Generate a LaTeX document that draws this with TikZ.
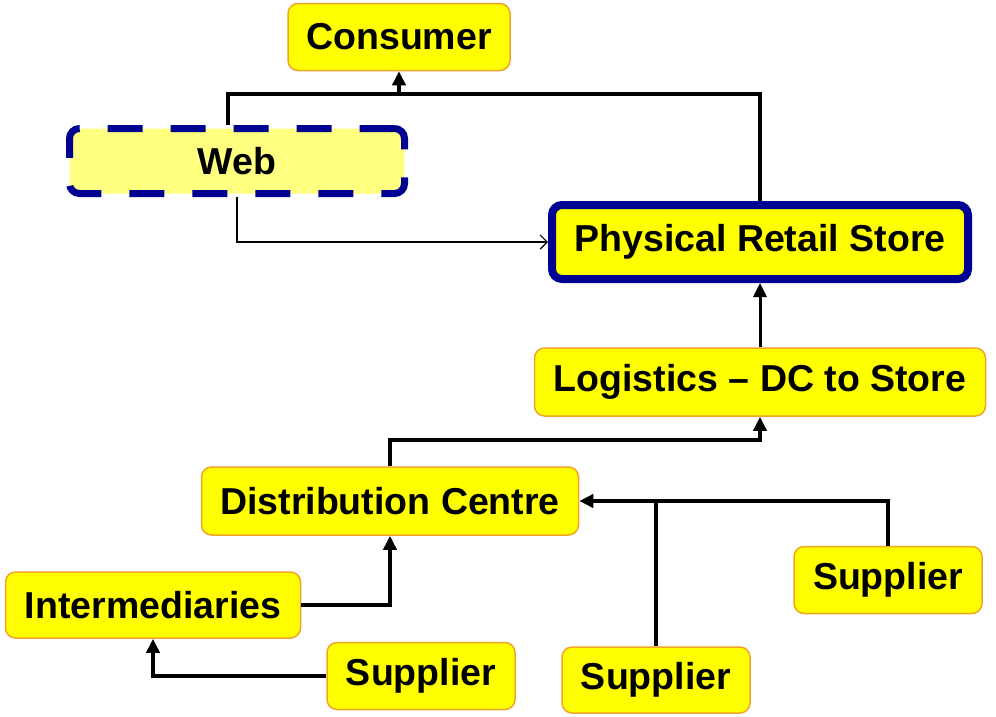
\documentclass[tikz,border=0pt]{standalone}
\usepackage{fontspec}
\setmainfont{Liberation Sans}
\usetikzlibrary{arrows.meta, positioning}
\definecolor{boxyellow}{RGB}{255,255,0}
\definecolor{webyellow}{RGB}{255,255,128}
\definecolor{boxorange}{RGB}{240,165,40}
\definecolor{navy}{RGB}{0,0,145}

\begin{document}
\begin{tikzpicture}[x=1pt, y=-1pt,
  box/.style={draw = boxorange, line width = 1.5pt, fill = boxyellow, rounded corners = 10pt,
    font = \fontsize{37.5}{42}\selectfont\bfseries, inner sep = 0pt},
  line/.style={line width = 4pt},
  flow/.style={line width = 4pt, -{Triangle[length=14pt,width=13pt]}},
  thinflow/.style={line width = 1.2pt, -{Straight Barb[length=7pt,width=14pt]}}]

\useasboundingbox (0,0) rectangle (996,716);

\node (consumer) at (399,37) [box, minimum width = 222pt, minimum height = 67pt] {Consumer};
\node (web) at (237,161) [box, draw = navy, line width = 7pt, dash pattern = on 35pt off 28pt,
  fill = webyellow, minimum width = 335pt, minimum height = 65pt] {Web};
\node (store) at (760,242) [box, draw = navy, line width = 8pt, minimum width = 416pt, minimum height = 74pt] {Physical Retail Store};
\node (logistics) at (760,382) [box, minimum width = 451pt, minimum height = 68pt] {Logistics -- DC to Store};
\node (dc) at (390,501) [box, minimum width = 377pt, minimum height = 68pt] {Distribution Centre};
\node (inter) at (153,605) [box, minimum width = 295pt, minimum height = 66pt] {Intermediaries};
\node (sup1) at (421,676) [box, minimum width = 188pt, minimum height = 67pt] {Supplier};
\node (sup2) at (656,680) [box, minimum width = 188pt, minimum height = 66pt] {Supplier};
\node (sup3) at (888,580) [box, minimum width = 188pt, minimum height = 67pt] {Supplier};

\coordinate (top) at (399,94);

\draw [line] ([xshift=-9pt]web.north) |- (top);
\draw [line] (store.north) |- (top);
\draw [flow] (top) -- (consumer.south);
\draw [thinflow] (web.south) |- (store.west);
\draw [flow, line width = 3pt] (logistics.north) -- (store.south);
\draw [flow] (dc.north) -- ++(0,-26) -| (logistics.south);
\draw [flow] (inter.east) -| (dc.south);
\draw [flow] (sup1.west) -| (inter.south);
\draw [flow] (sup3.north) |- (dc.east);
\draw [line] (sup2.north) -- (sup2.north |- dc.east);

\end{tikzpicture}
\end{document}
